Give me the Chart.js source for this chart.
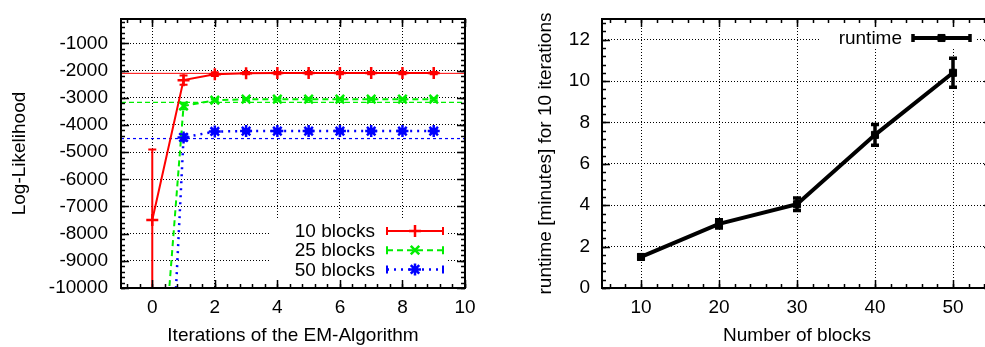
<!DOCTYPE html>
<html>
<head>
<meta charset="utf-8">
<script src="https://cdn.jsdelivr.net/npm/chart.js@4/dist/chart.umd.min.js"></script>
<style>
html, body { margin: 0; padding: 0; background: #fff; overflow: hidden; width: 985px; height: 347px; }
canvas { position: absolute; top: 0; }
#left { left: 0; }
#right { left: 490px; }
</style>
</head>
<body>
<canvas id="left" width="490" height="347"></canvas>
<canvas id="right" width="530" height="347"></canvas>
<script>
// left plot: log-likelihood per EM iteration
const iterations = [0, 1, 2, 3, 4, 5, 6, 7, 8, 9];
const seriesLabels = ['10 blocks', '25 blocks', '50 blocks'];
const ll10 = [-7500, -2350, -2130, -2095, -2090, -2090, -2090, -2090, -2090, -2090];
const ll10Err = [2600, 170, 70, 40, 40, 40, 40, 40, 40, 40];
const ll25 = [-18000, -3300, -3090, -3050, -3050, -3050, -3050, -3050, -3050, -3050];
const ll25Err = [2000, 120, 50, 40, 40, 40, 40, 40, 40, 40];
const ll50 = [-27500, -4460, -4240, -4225, -4225, -4225, -4225, -4225, -4225, -4225];
const ll50Err = [2000, 120, 50, 40, 40, 40, 40, 40, 40, 40];
const ref10 = -2100;
const ref25 = -3170;
const ref50 = -4500;
const iterTicks = [0, 2, 4, 6, 8, 10];
const llTicks = [-1000, -2000, -3000, -4000, -5000, -6000, -7000, -8000, -9000, -10000];

// right plot: runtime per number of blocks
const blocks = [10, 20, 30, 40, 50];
const runtime = [1.5, 3.1, 4.05, 7.4, 10.4];
const runtimeErr = [0.1, 0.2, 0.3, 0.5, 0.7];
const blockTicks = [10, 20, 30, 40, 50];
const runtimeTicks = [0, 2, 4, 6, 8, 10, 12];

Chart.defaults.font.family = "'Liberation Sans', Arial, sans-serif";
Chart.defaults.font.size = 19;
Chart.defaults.color = '#000';
Chart.defaults.animation = false;

function pts(xs, ys) {
    return xs.map((x, i) => ({ x: x, y: ys[i] }));
}

function clipArea(ctx, a) {
    ctx.beginPath();
    ctx.rect(a.left, a.top, a.right - a.left, a.bottom - a.top);
    ctx.clip();
}

const errorBars = {
    id: 'errorBars',
    afterDatasetsDraw(chart) {
        const { ctx, chartArea, scales } = chart;
        ctx.save();
        clipArea(ctx, chartArea);
        chart.data.datasets.forEach(ds => {
            if (!ds.errors) return;
            const cap = ds.capHalf || 4;
            ctx.strokeStyle = ds.borderColor;
            ctx.lineWidth = ds.errWidth || 2;
            ctx.setLineDash([]);
            ds.data.forEach((p, i) => {
                const px = scales.x.getPixelForValue(p.x);
                const top = scales.y.getPixelForValue(p.y + ds.errors[i]);
                const bot = scales.y.getPixelForValue(p.y - ds.errors[i]);
                ctx.beginPath();
                ctx.moveTo(px, top); ctx.lineTo(px, bot);
                ctx.moveTo(px - cap, top); ctx.lineTo(px + cap, top);
                ctx.moveTo(px - cap, bot); ctx.lineTo(px + cap, bot);
                ctx.stroke();
            });
        });
        ctx.restore();
    }
};

// gnuplot style border with inward ticks on all four sides
const frame = {
    id: 'frame',
    afterDraw(chart, args, o) {
        const { ctx, chartArea: a, scales } = chart;
        ctx.save();
        ctx.strokeStyle = '#000';
        ctx.setLineDash([]);
        const marks = (scale, step, len, horiz) => {
            const k0 = Math.ceil(scale.min / step - 1e-9);
            const k1 = Math.floor(scale.max / step + 1e-9);
            ctx.beginPath();
            for (let k = k0; k <= k1; k++) {
                const p = Math.round(scale.getPixelForValue(k * step)) + 0.5;
                if (horiz) {
                    ctx.moveTo(p, a.bottom); ctx.lineTo(p, a.bottom - len);
                    ctx.moveTo(p, a.top); ctx.lineTo(p, a.top + len);
                } else {
                    ctx.moveTo(a.left, p); ctx.lineTo(a.left + len, p);
                    ctx.moveTo(a.right, p); ctx.lineTo(a.right - len, p);
                }
            }
            ctx.stroke();
        };
        ctx.lineWidth = 1.5;
        marks(scales.x, o.xMinor, 4, true);
        marks(scales.y, o.yMinor, 4, false);
        marks(scales.x, o.xMajor, 8, true);
        marks(scales.y, o.yMajor, 8, false);
        ctx.lineWidth = 2;
        ctx.strokeRect(a.left, a.top, a.right - a.left, a.bottom - a.top);
        ctx.restore();
    }
};

const key = {
    id: 'key',
    beforeDatasetsDraw(chart, args, o) {
        const { ctx, chartArea: a } = chart;
        ctx.save();
        ctx.fillStyle = '#fff';
        ctx.fillRect(a.right + o.boxLeft, a.top + o.boxTop, o.boxRight - o.boxLeft, o.boxBottom - o.boxTop);
        ctx.restore();
    },
    afterDatasetsDraw(chart, args, o) {
        const { ctx, chartArea: a } = chart;
        ctx.save();
        ctx.font = "19px 'Liberation Sans', Arial, sans-serif";
        ctx.textAlign = 'right';
        ctx.textBaseline = 'middle';
        let row = 0;
        chart.data.datasets.forEach(ds => {
            if (!ds.keyLabel) return;
            const y = a.top + o.firstRow + row * o.step;
            const x0 = a.right + o.sampleLeft, x1 = a.right + o.sampleRight;
            ctx.fillStyle = '#000';
            ctx.fillText(ds.keyLabel, a.right + o.textRight, y + 1);
            ctx.strokeStyle = ds.borderColor;
            ctx.lineWidth = ds.borderWidth;
            ctx.setLineDash(ds.borderDash || []);
            ctx.beginPath();
            ctx.moveTo(x0, y); ctx.lineTo(x1, y);
            ctx.stroke();
            ctx.setLineDash([]);
            ctx.lineWidth = ds.errWidth || 2;
            ctx.beginPath();
            ctx.moveTo(x0, y - 4); ctx.lineTo(x0, y + 4);
            ctx.moveTo(x1, y - 4); ctx.lineTo(x1, y + 4);
            ctx.stroke();
            ctx.fillStyle = ds.pointBackgroundColor || ds.borderColor;
            ctx.lineWidth = ds.pointBorderWidth || 2;
            Chart.helpers.drawPoint(ctx, {
                pointStyle: ds.pointStyle, radius: ds.pointRadius, rotation: 0,
                borderWidth: ds.pointBorderWidth || 2
            }, (x0 + x1) / 2, y);
            row++;
        });
        ctx.restore();
    }
};

// fixed axis box sizes so the plot area sits where the reference has it
function fixedAxis(size, horiz) {
    return s => {
        if (horiz) s.height = size; else s.width = size;
        s.paddingTop = 0; s.paddingBottom = 0;
        s.paddingLeft = 0; s.paddingRight = 0;
    };
}

// ---- left chart ----
new Chart(document.getElementById('left').getContext('2d'), {
    type: 'line',
    data: {
        datasets: [
            {
                keyLabel: seriesLabels[0],
                data: pts(iterations, ll10), errors: ll10Err,
                borderColor: '#ff0000', borderWidth: 2, pointStyle: 'cross',
                pointRadius: 6, pointBorderWidth: 2.5, fill: false
            },
            {
                keyLabel: seriesLabels[1],
                data: pts(iterations, ll25), errors: ll25Err,
                borderColor: '#00ee00', borderWidth: 2, borderDash: [6, 4], pointStyle: 'crossRot',
                pointRadius: 6, pointBorderWidth: 2.5, fill: false
            },
            {
                keyLabel: seriesLabels[2],
                data: pts(iterations, ll50), errors: ll50Err,
                borderColor: '#0000ff', borderWidth: 2.5, borderDash: [2, 5], pointStyle: 'star',
                pointRadius: 6, pointBorderWidth: 2.5, fill: false
            },
            {
                data: [{ x: -1, y: ref10 }, { x: 10, y: ref10 }],
                borderColor: '#ff0000', borderWidth: 1, pointRadius: 0
            },
            {
                data: [{ x: -1, y: ref25 }, { x: 10, y: ref25 }],
                borderColor: '#00ee00', borderWidth: 1.2, borderDash: [5, 3], pointRadius: 0
            },
            {
                data: [{ x: -1, y: ref50 }, { x: 10, y: ref50 }],
                borderColor: '#0000ff', borderWidth: 1.2, borderDash: [3, 3], pointRadius: 0
            }
        ]
    },
    options: {
        responsive: false,
        layout: { padding: { top: 19, right: 25, left: 0, bottom: 0 } },
        plugins: {
            legend: { display: false },
            tooltip: { enabled: false },
            frame: { xMajor: 2, xMinor: 0.4, yMajor: 1000, yMinor: 200 },
            key: {
                boxLeft: -195, boxRight: -17, boxTop: 201, boxBottom: 269,
                firstRow: 212, step: 19.2, textRight: -90, sampleLeft: -78, sampleRight: -22
            }
        },
        scales: {
            x: {
                type: 'linear', min: -1, max: 10,
                afterBuildTicks: s => { s.ticks = iterTicks.map(v => ({ value: v })); },
                afterFit: fixedAxis(59, true),
                ticks: { padding: 8, maxRotation: 0, callback: v => String(v) },
                grid: { color: '#000', lineWidth: 1, drawTicks: false },
                border: { display: false, dash: [1, 2] },
                title: { display: true, text: 'Iterations of the EM-Algorithm', padding: { top: 0, bottom: 0 } }
            },
            y: {
                type: 'linear', min: -10000, max: -100,
                afterBuildTicks: s => { s.ticks = llTicks.map(v => ({ value: v })); },
                afterFit: fixedAxis(121, false),
                ticks: { padding: 13, callback: v => String(v) },
                grid: { color: '#000', lineWidth: 1, drawTicks: false },
                border: { display: false, dash: [1, 2] },
                title: { display: true, text: 'Log-Likelihood', padding: { top: 8, bottom: 0 } }
            }
        }
    },
    plugins: [key, errorBars, frame]
});

// ---- right chart ----
new Chart(document.getElementById('right').getContext('2d'), {
    type: 'line',
    data: {
        datasets: [
            {
                keyLabel: 'runtime',
                data: pts(blocks, runtime), errors: runtimeErr,
                borderColor: '#000', borderWidth: 4, errWidth: 3.5, capHalf: 4,
                pointStyle: 'rect', pointRadius: 5, pointBackgroundColor: '#000',
                pointBorderWidth: 1, fill: false
            }
        ]
    },
    options: {
        responsive: false,
        layout: { padding: { top: 19, right: 28, left: 0, bottom: 0 } },
        plugins: {
            legend: { display: false },
            tooltip: { enabled: false },
            frame: { xMajor: 10, xMinor: 2, yMajor: 2, yMinor: 0.4 },
            key: {
                boxLeft: -172, boxRight: -17, boxTop: 0, boxBottom: 29,
                firstRow: 19, step: 19.2, textRight: -90, sampleLeft: -79, sampleRight: -22
            }
        },
        scales: {
            x: {
                type: 'linear', min: 5, max: 55,
                afterBuildTicks: s => { s.ticks = blockTicks.map(v => ({ value: v })); },
                afterFit: fixedAxis(59, true),
                ticks: { padding: 8, maxRotation: 0, callback: v => String(v) },
                grid: { color: '#000', lineWidth: 1, drawTicks: false },
                border: { display: false, dash: [1, 2] },
                title: { display: true, text: 'Number of blocks', padding: { top: 0, bottom: 0 } }
            },
            y: {
                type: 'linear', min: 0, max: 13,
                afterBuildTicks: s => { s.ticks = runtimeTicks.map(v => ({ value: v })); },
                afterFit: fixedAxis(112, false),
                ticks: { padding: 12, callback: v => String(v) },
                grid: { color: '#000', lineWidth: 1, drawTicks: false },
                border: { display: false, dash: [1, 2] },
                title: { display: true, text: 'runtime [minutes] for 10 iterations', padding: { top: 44, bottom: 0 } }
            }
        }
    },
    plugins: [key, errorBars, frame]
});
</script>
</body>
</html>
